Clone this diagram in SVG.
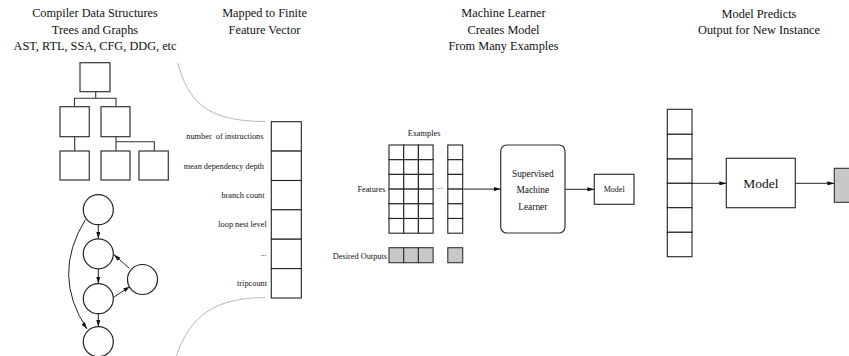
<svg xmlns="http://www.w3.org/2000/svg" width="849" height="356" viewBox="0 0 849 356">
  <style>
    text { font-family: "Liberation Serif", "Times New Roman", serif; fill: #111; }
    .title { font-size: 12.3px; text-anchor: middle; }
    .lbl { font-size: 8.3px; }
    .end { text-anchor: end; }
    .mid { text-anchor: middle; }
    .box { fill: #fff; stroke: #333; stroke-width: 1.2; }
    .cell { fill: #fff; stroke: #222; stroke-width: 1.1; }
    .out { fill: #c8c8c8; stroke: #333; stroke-width: 1.1; }
    .wire { fill: none; stroke: #333; stroke-width: 1.1; }
    .edge { fill: none; stroke: #222; stroke-width: 0.9; }
    .arrow { fill: none; stroke: #222; stroke-width: 1; marker-end: url(#head); }
    .soft { fill: none; stroke: #b0b0b0; stroke-width: 0.9; }
  </style>
  <defs>
    <marker id="head" viewBox="0 0 10 6" refX="10" refY="3" markerWidth="7" markerHeight="4.2" markerUnits="userSpaceOnUse" orient="auto">
      <path d="M0,0 L10,3 L0,6 z" fill="#111"/>
    </marker>
  </defs>

  <!-- column headings -->
  <g id="headings">
    <text class="title" x="95" y="17">Compiler Data Structures</text>
    <text class="title" x="95" y="33.7">Trees and Graphs</text>
    <text class="title" x="95" y="50.3">AST, RTL, SSA, CFG, DDG, etc</text>
    <text class="title" x="264.5" y="17">Mapped to Finite</text>
    <text class="title" x="264.5" y="34">Feature Vector</text>
    <text class="title" x="503.5" y="17">Machine Learner</text>
    <text class="title" x="503.5" y="33.7">Creates Model</text>
    <text class="title" x="503.5" y="50.3">From Many Examples</text>
    <text class="title" x="759" y="18">Model Predicts</text>
    <text class="title" x="759" y="34.3">Output for New Instance</text>
  </g>

  <!-- syntax tree -->
  <g id="tree">
    <path class="wire" d="M95.7,91.7 V98.3 M74.5,106.7 V98.3 H116 V106.7 M74.7,136.7 V151 M116,136.7 V151 M116,141.7 H154.3 V151"/>
    <rect class="box" x="80" y="62.7" width="30" height="29"/>
    <rect class="box" x="60" y="106.7" width="29.3" height="30"/>
    <rect class="box" x="101" y="106.7" width="29" height="30"/>
    <rect class="box" x="60" y="151" width="29.3" height="29"/>
    <rect class="box" x="101" y="151" width="29" height="29"/>
    <rect class="box" x="139" y="151" width="29.3" height="29"/>
  </g>

  <!-- control flow graph -->
  <g id="graph">
    <g id="cfg-edges">
      <path class="arrow" d="M98.3,224.7 V238.8"/>
      <path class="arrow" d="M98.3,268.8 V283.7"/>
      <path class="arrow" d="M98.3,313.7 V326.7"/>
      <path class="arrow" d="M113.3,297.5 L130,286.5"/>
      <path class="arrow" d="M129.3,268.3 L113.8,254.5"/>
      <path class="arrow" d="M85.5,219.5 Q51,275 87,329"/>
    </g>
    <g fill="#fff" stroke="#222" stroke-width="1.2">
      <circle id="b1" cx="98.3" cy="209.7" r="15"/>
      <circle id="b2" cx="98.3" cy="253.8" r="15"/>
      <circle id="b3" cx="98.3" cy="298.7" r="15"/>
      <circle id="b4" cx="142.5" cy="279.5" r="15"/>
      <circle id="b5" cx="98.3" cy="341.7" r="15"/>
    </g>
  </g>

  <!-- brace-like guide curves -->
  <g id="guides">
    <path class="soft" d="M177.7,63 C188,100 205,121.5 265,121.5"/>
    <path class="soft" d="M265,297.5 C215,298 190,315 176,357"/>
  </g>

  <!-- feature vector -->
  <g id="feature-vector">
    <rect class="cell" x="271.3" y="121.7" width="30" height="29.4"/>
    <rect class="cell" x="271.3" y="151.1" width="30" height="29.4"/>
    <rect class="cell" x="271.3" y="180.5" width="30" height="29.3"/>
    <rect class="cell" x="271.3" y="209.8" width="30" height="29.4"/>
    <rect class="cell" x="271.3" y="239.2" width="30" height="29.4"/>
    <rect class="cell" x="271.3" y="268.6" width="30" height="29.4"/>
    <text class="lbl end" x="263.5" y="139.2" xml:space="preserve">number  of instructions</text>
    <text class="lbl end" x="264" y="168.6">mean dependency depth</text>
    <text class="lbl end" x="264.5" y="198">branch count</text>
    <text class="lbl end" x="266.7" y="227.3">loop nest level</text>
    <text class="lbl end" x="266.7" y="256">...</text>
    <text class="lbl end" x="267" y="286.1">tripcount</text>
  </g>

  <!-- training examples -->
  <g id="examples">
    <text class="lbl mid" x="424" y="135.5">Examples</text>
    <text class="lbl end" x="385.5" y="191.8">Features</text>
    <text class="lbl" x="436.5" y="189">...</text>
    <g class="cell">
      <rect x="389" y="145" width="14.7" height="14.7"/><rect x="403.7" y="145" width="14.7" height="14.7"/><rect x="418.4" y="145" width="14.7" height="14.7"/>
      <rect x="389" y="159.7" width="14.7" height="14.7"/><rect x="403.7" y="159.7" width="14.7" height="14.7"/><rect x="418.4" y="159.7" width="14.7" height="14.7"/>
      <rect x="389" y="174.4" width="14.7" height="14.7"/><rect x="403.7" y="174.4" width="14.7" height="14.7"/><rect x="418.4" y="174.4" width="14.7" height="14.7"/>
      <rect x="389" y="189.1" width="14.7" height="14.7"/><rect x="403.7" y="189.1" width="14.7" height="14.7"/><rect x="418.4" y="189.1" width="14.7" height="14.7"/>
      <rect x="389" y="203.8" width="14.7" height="14.7"/><rect x="403.7" y="203.8" width="14.7" height="14.7"/><rect x="418.4" y="203.8" width="14.7" height="14.7"/>
      <rect x="389" y="218.5" width="14.7" height="14.7"/><rect x="403.7" y="218.5" width="14.7" height="14.7"/><rect x="418.4" y="218.5" width="14.7" height="14.7"/>
      <rect x="447.8" y="145" width="14.9" height="14.7"/>
      <rect x="447.8" y="159.7" width="14.9" height="14.7"/>
      <rect x="447.8" y="174.4" width="14.9" height="14.7"/>
      <rect x="447.8" y="189.1" width="14.9" height="14.7"/>
      <rect x="447.8" y="203.8" width="14.9" height="14.7"/>
      <rect x="447.8" y="218.5" width="14.9" height="14.7"/>
    </g>
  </g>

  <!-- desired outputs -->
  <g id="desired-outputs">
    <text class="lbl end" x="387" y="259.2">Desired Outputs</text>
    <g class="out">
      <rect x="389" y="247.7" width="14.7" height="15"/>
      <rect x="403.7" y="247.7" width="14.7" height="15"/>
      <rect x="418.4" y="247.7" width="14.7" height="15"/>
      <rect x="447.8" y="247.7" width="14.9" height="15"/>
    </g>
  </g>

  <!-- learner -->
  <g id="learner">
    <rect class="box" x="500.7" y="145" width="64.3" height="88" rx="6" ry="6"/>
    <text class="mid" style="font-size:9.4px" x="532.8" y="176.8">Supervised</text>
    <text class="mid" style="font-size:9.4px" x="532.8" y="192.8">Machine</text>
    <text class="mid" style="font-size:9.4px" x="532.8" y="209.8">Learner</text>
  </g>

  <!-- trained model -->
  <g id="model-small">
    <rect class="box" x="594.3" y="174.3" width="39.7" height="30"/>
    <text class="mid" style="font-size:8px" x="614.2" y="192">Model</text>
  </g>

  <!-- new instance vector -->
  <g id="instance-vector">
    <rect class="cell" x="667.3" y="109.3" width="24.7" height="25"/>
    <rect class="cell" x="667.3" y="134.3" width="24.7" height="24.7"/>
    <rect class="cell" x="667.3" y="159" width="24.7" height="24.3"/>
    <rect class="cell" x="667.3" y="183.3" width="24.7" height="24.4"/>
    <rect class="cell" x="667.3" y="207.7" width="24.7" height="24.6"/>
    <rect class="cell" x="667.3" y="232.3" width="24.7" height="24.4"/>
  </g>

  <!-- model applied -->
  <g id="model-large">
    <rect class="box" x="726.3" y="158.3" width="69" height="49.4"/>
    <text class="mid" style="font-size:13.5px" x="760.8" y="188">Model</text>
  </g>

  <!-- prediction -->
  <g id="prediction">
    <rect class="out" x="834.3" y="168.3" width="30" height="34"/>
  </g>

  <!-- connectors -->
  <g id="connectors">
    <path class="arrow" d="M463.5,189.1 H500.7"/>
    <path class="arrow" d="M565,189.3 H594.3"/>
    <path class="arrow" d="M692,183.3 H726.3"/>
    <path class="arrow" d="M795.3,183.3 H834.3"/>
  </g>
</svg>
